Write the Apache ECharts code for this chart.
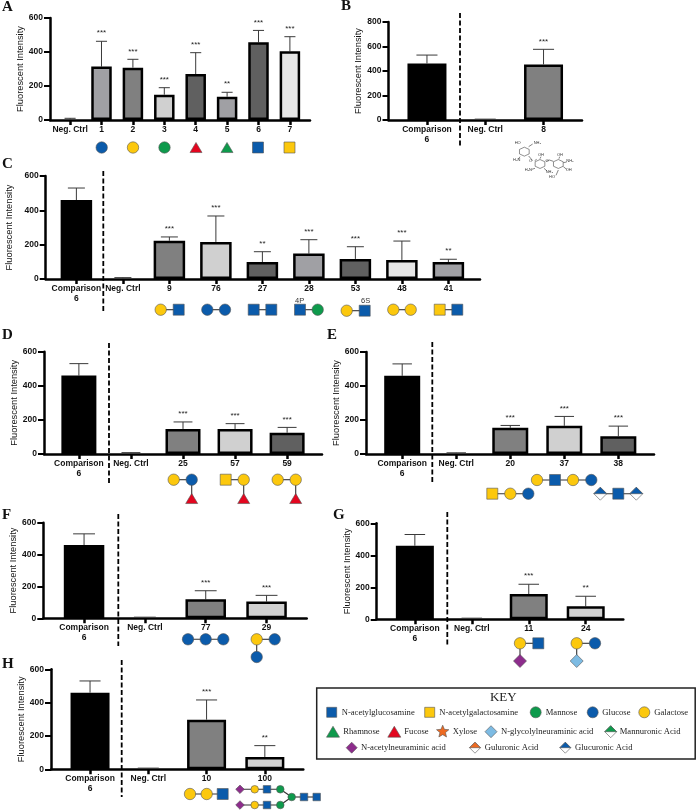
<!DOCTYPE html>
<html><head><meta charset="utf-8">
<style>html,body{margin:0;padding:0;background:#fff}#c{width:696px;height:810px;filter:blur(.35px)}</style>
<script src="https://cdn.jsdelivr.net/npm/echarts@6/dist/echarts.min.js"></script>
</head><body><div id="c"></div>
<script>
// ---------- data ----------
const compLabel = 'Comparison\n6';
const negLabel = 'Neg. Ctrl';
const compValue = 460, compUpper = 530;
const negValue = 2, negUpper = 7;

const aLabels = [negLabel,'1','2','3','4','5','6','7'];
const aValues = [negValue,314,308,149,270,137,457,404];
const aUpper  = [10,463,357,190,396,163,527,490];
const aSig    = ['','***','***','***','***','**','***','***'];
const aFills  = ['none','#a0a0a4','#808080','#d0d0d0','#606060','#a0a0a4','#606060','#e6e6e6'];

const bLabels = [compLabel,negLabel,'8'];
const bValues = [462,negValue,454];
const bUpper  = [530,negUpper,577];
const bSig    = ['','','***'];
const bFills  = ['#000','none','#808080'];

const cLabels = [compLabel,negLabel,'9','76','27','28','53','48','41'];
const cValues = [compValue,negValue,223,216,99,148,117,111,99];
const cUpper  = [compUpper,8,245,367,159,229,188,221,115];
const cSig    = ['','','***','***','**','***','***','***','**'];
const cFills  = ['#000','none','#808080','#d0d0d0','#606060','#a0a0a4','#606060','#e6e6e6','#a0a0a4'];

const dLabels = [compLabel,negLabel,'25','57','59'];
const dValues = [compValue,negValue,147,147,125];
const dUpper  = [compUpper,8,188,178,156];
const dSig    = ['','','***','***','***'];
const dFills  = ['#000','none','#808080','#d0d0d0','#606060'];

const eLabels = [compLabel,negLabel,'20','37','38'];
const eValues = [compValue,negValue,154,166,105];
const eUpper  = [compUpper,negUpper,168,221,164];
const eSig    = ['','','***','***','***'];
const eFills  = ['#000','none','#808080','#d0d0d0','#606060'];

const fLabels = [compLabel,negLabel,'77','29'];
const fValues = [compValue,negValue,119,105];
const fUpper  = [compUpper,negUpper,173,144];
const fSig    = ['','','***','***'];
const fFills  = ['#000','none','#808080','#d0d0d0'];

const gLabels = [compLabel,negLabel,'11','24'];
const gValues = [compValue,negValue,158,81];
const gUpper  = [compUpper,negUpper,219,144];
const gSig    = ['','','***','**'];
const gFills  = ['#000','none','#808080','#d0d0d0'];

const hLabels = [compLabel,negLabel,'10','100'];
const hValues = [compValue,negValue,298,74];
const hUpper  = [compUpper,negUpper,416,142];
const hSig    = ['','','***','**'];
const hFills  = ['#000','none','#808080','#d0d0d0'];

const yTitle = 'Fluorescent Intensity';

// ---------- layout of each panel (axis x, axis end, y top, y zero, first cat x, cat spacing, bar width) ----------
const panels = [
 {l:aLabels,v:aValues,u:aUpper,s:aSig,f:aFills,ax:50,  end:310,  top:18,   zero:120,  x0:70,   dx:31.4, w:20.5,max:600,step:200},
 {l:bLabels,v:bValues,u:bUpper,s:bSig,f:bFills,ax:388.5,end:582, top:22,   zero:120,  x0:427,  dx:58.2, w:39,  max:800,step:200},
 {l:cLabels,v:cValues,u:cUpper,s:cSig,f:cFills,ax:45.7,end:480,  top:176,  zero:279,  x0:76.3, dx:46.5, w:31.5,max:600,step:200},
 {l:dLabels,v:dValues,u:dUpper,s:dSig,f:dFills,ax:44,  end:322,  top:351.7,zero:454,  x0:79,   dx:52,   w:35,  max:600,step:200},
 {l:eLabels,v:eValues,u:eUpper,s:eSig,f:eFills,ax:366, end:654,  top:352,  zero:454,  x0:402.3,dx:54,   w:36,  max:600,step:200},
 {l:fLabels,v:fValues,u:fUpper,s:fSig,f:fFills,ax:43.3,end:306.7,top:522.7,zero:618.3,x0:84,   dx:60.8, w:40.5,max:600,step:200},
 {l:gLabels,v:gValues,u:gUpper,s:gSig,f:gFills,ax:376.7,end:623.3,top:523.3,zero:619.3,x0:414.7,dx:57,  w:38,  max:600,step:200},
 {l:hLabels,v:hValues,u:hUpper,s:hSig,f:hFills,ax:51,  end:303.3,top:669.3,zero:769.3,x0:90,   dx:58.3, w:39,  max:600,step:200}
];

const AXW = 2.5, SANS = '"Liberation Sans", Arial, sans-serif', SERIF = '"Liberation Serif", "Times New Roman", serif';
const r2d=v=>Math.round(v*100)/100;
const grid=[],xAxis=[],yAxis=[],series=[];
panels.forEach((p,i)=>{
  grid.push({left:p.ax,top:p.top,width:p.end-p.ax,height:p.zero-p.top,containLabel:false,outerBoundsMode:'none'});
  const idx=p.l.map((_,k)=>k);
  xAxis.push({type:'value',gridIndex:i,interval:0.01,min:r2d((p.ax-p.x0)/p.dx),max:r2d((p.end-p.x0)/p.dx),splitLine:{show:false},
    axisLine:{show:true,onZero:false,lineStyle:{color:'#000',width:AXW}},
    axisTick:{show:true,customValues:idx,length:5,lineStyle:{color:'#000',width:AXW}},
    axisLabel:{show:true,customValues:idx,margin:5,lineHeight:9.5,formatter:v=>p.l[Math.round(v)],color:'#111',fontFamily:SANS,fontWeight:'bold',fontSize:8.5,hideOverlap:false,showMinLabel:true,showMaxLabel:true}});
  yAxis.push({type:'value',gridIndex:i,min:0,max:p.max,interval:p.step,splitLine:{show:false},
    name:yTitle,nameLocation:'middle',nameGap:21,nameRotate:90,
    nameTextStyle:{color:'#111',fontFamily:SANS,fontSize:9.3},
    axisLine:{show:true,onZero:false,lineStyle:{color:'#000',width:AXW}},
    axisTick:{show:true,length:6,lineStyle:{color:'#000',width:2}},
    axisLabel:{margin:7,color:'#111',fontFamily:SANS,fontWeight:'bold',fontSize:8.5}});
  series.push({type:'bar',xAxisIndex:i,yAxisIndex:i,barWidth:p.w,clip:false,silent:true,
    data:p.v.map((v,k)=>({value:[k,v],itemStyle:p.f[k]==='none'?{color:'transparent',borderWidth:0}:{color:p.f[k],borderColor:'#000',borderWidth:2.5}}))});
  series.push({type:'custom',xAxisIndex:i,yAxisIndex:i,clip:false,silent:true,z:1,
    data:p.v.map((v,k)=>[k,v,p.u[k]]),encode:{x:0,y:[1,2]},
    renderItem:(params,api)=>{
      const k=params.dataIndex, a=api.coord([api.value(0),api.value(1)]), b=api.coord([api.value(0),api.value(2)]);
      const cap=p.w*0.27, st={stroke:'#3a3a3a',lineWidth:1,fill:'none'};
      const ch=[{type:'line',shape:{x1:a[0],y1:a[1],x2:b[0],y2:b[1]},style:st},
                {type:'line',shape:{x1:b[0]-cap,y1:b[1],x2:b[0]+cap,y2:b[1]},style:st}];
      if(p.s[k]) ch.push({type:'text',style:{text:p.s[k],x:b[0],y:b[1]-4,align:'center',verticalAlign:'bottom',fill:'#222',font:'8px '+SANS}});
      return {type:'group',children:ch};
    }});
});

// ---------- annotations (glycan symbols, labels, key) ----------
const BLUE='#0b5bab',YEL='#fcc80d',GRN='#0e9a4c',RED='#e3061f',PUR='#8d2c8c',LBL='#7dbbe3',ORG='#ee6a21';
const G=[];
const EDGE='#555';
const circ=(x,y,c,r=5.7)=>G.push({type:'circle',shape:{cx:x,cy:y,r},style:{fill:c,stroke:EDGE,lineWidth:.6},z:20});
const sq=(x,y,c,s=11)=>G.push({type:'rect',shape:{x:x-s/2,y:y-s/2,width:s,height:s},style:{fill:c,stroke:EDGE,lineWidth:.6},z:20});
const tri=(x,y,c,s=12)=>G.push({type:'polygon',shape:{points:[[x-s/2,y+s*.42],[x+s/2,y+s*.42],[x,y-s*.42]]},style:{fill:c,stroke:EDGE,lineWidth:.6},z:20});
const dia=(x,y,c,s=6.5)=>G.push({type:'polygon',shape:{points:[[x,y-s],[x+s,y],[x,y+s],[x-s,y]]},style:{fill:c,stroke:EDGE,lineWidth:.6},z:20});
const half=(x,y,c,s=6.5)=>{dia(x,y,'#fff',s);G.push({type:'polygon',shape:{points:[[x,y-s],[x+s,y],[x-s,y]]},style:{fill:c,stroke:EDGE,lineWidth:.6},z:21});};
const star=(x,y,c,R=6.5)=>{const pts=[];for(let i=0;i<10;i++){const r=i%2?R*.45:R,a=-Math.PI/2+i*Math.PI/5;pts.push([x+r*Math.cos(a),y+r*Math.sin(a)]);}
  G.push({type:'polygon',shape:{points:pts},style:{fill:c,stroke:EDGE,lineWidth:.6},z:20});};
const link=(x1,y1,x2,y2,w=1.1)=>G.push({type:'line',shape:{x1,y1,x2,y2},style:{stroke:'#333',lineWidth:w},z:15});
const txt=(t,x,y,font,fill='#222',align='left')=>G.push({type:'text',style:{text:t,x,y,font,fill,textAlign:align,textVerticalAlign:'middle'},z:25});
const dash=(x,y1,y2)=>G.push({type:'line',shape:{x1:x,y1,x2:x,y2},style:{stroke:'#000',lineWidth:1.8,lineDash:[5,2.5]},z:12});

// panel letters
[['A',2,7],['B',341,6],['C',2,164],['D',2,335],['E',327,335],['F',2,515],['G',333,515],['H',2,664]]
  .forEach(([t,x,y])=>txt(t,x,y,'bold 15px '+SERIF,'#111'));

// dashed separators
dash(460,13,146);dash(103.3,171,312);dash(109,343,484);dash(432.3,342,484);dash(118.3,514,646);dash(447.3,512,645);dash(121.7,660,797);

// A
const ay=147.5;
circ(101.7,ay,BLUE);circ(133,ay,YEL);circ(164.5,ay,GRN);tri(196,ay,RED);tri(227,ay,GRN);sq(258,ay,BLUE);sq(289.5,ay,YEL);

// C
const cy=309.7;
link(160.7,cy,178.7,cy);circ(160.7,cy,YEL);sq(178.7,cy,BLUE);
link(207.3,cy,225,cy);circ(207.3,cy,BLUE);circ(225,cy,BLUE);
link(253.7,cy,271.3,cy);sq(253.7,cy,BLUE);sq(271.3,cy,BLUE);
link(300,cy,317.7,cy);sq(300,cy,BLUE);circ(317.7,cy,GRN);txt('4P',295,301,'7.5px '+SANS,'#333');
link(346.7,cy+1,364.7,cy+1);circ(346.7,cy+1,YEL);sq(364.7,cy+1,BLUE);txt('6S',361,301,'7.5px '+SANS,'#333');
link(393.3,cy,410.7,cy);circ(393.3,cy,YEL);circ(410.7,cy,YEL);
link(439.7,cy,457.3,cy);sq(439.7,cy,YEL);sq(457.3,cy,BLUE);

// D
const dy=479.7,dy2=498.5;
link(173.7,dy,191.7,dy);link(191.7,dy,191.7,dy2);circ(173.7,dy,YEL);circ(191.7,dy,BLUE);tri(191.7,dy2,RED);
link(225.7,dy,243.7,dy);link(243.7,dy,243.7,dy2);sq(225.7,dy,YEL);circ(243.7,dy,YEL);tri(243.7,dy2,RED);
link(277.7,dy,295.7,dy);link(295.7,dy,295.7,dy2);circ(277.7,dy,YEL);circ(295.7,dy,YEL);tri(295.7,dy2,RED);

// E
const ey1=480,ey2=493.7;
link(537,ey1,591.3,ey1);circ(537,ey1,YEL);sq(555,ey1,BLUE);circ(573,ey1,YEL);circ(591.3,ey1,BLUE);
link(492.3,ey2,528.3,ey2);sq(492.3,ey2,YEL);circ(510.3,ey2,YEL);circ(528.3,ey2,BLUE);
link(600.3,ey2,636.3,ey2);half(600.3,ey2,BLUE);sq(618.3,ey2,BLUE);half(636.3,ey2,BLUE);

// F
const fy=639.3;
link(188,fy,223.3,fy);circ(188,fy,BLUE);circ(205.7,fy,BLUE);circ(223.3,fy,BLUE);
link(256.7,fy,274.7,fy);link(256.7,fy,256.7,657);circ(256.7,fy,YEL);circ(274.7,fy,BLUE);circ(256.7,657,BLUE);

// G
const gy=643.3;
link(520,gy,538.3,gy);link(520,gy,520,661);circ(520,gy,YEL);sq(538.3,gy,BLUE);dia(520,661,PUR);
link(576.7,gy,595,gy);link(576.7,gy,576.7,661);circ(576.7,gy,YEL);circ(595,gy,BLUE);dia(576.7,661,LBL);

// H
link(190,794,222.7,794);circ(190,794,YEL);circ(206.7,794,YEL);sq(222.7,794,BLUE);
[789.3,805].forEach(y=>{link(240,y,280.3,y);dia(240,y,PUR,4.3);circ(254.7,y,YEL,3.8);sq(267,y,BLUE,7.5);circ(280.3,y,GRN,3.8);link(280.3,y,291.7,797);});
link(291.7,797,316.7,797);circ(291.7,797,GRN,3.8);sq(304,797,BLUE,7.5);sq(316.7,797,BLUE,7.5);

// B chemical structure
const zx=v=>340+v/3, zy=v=>v/3;
const hex=(cx,cy,r=5.6)=>{const pts=[];for(let i=0;i<6;i++){const a=Math.PI/6+i*Math.PI/3;pts.push([zx(cx)+r*Math.cos(a),zy(cy)+r*Math.sin(a)*.8]);}
  G.push({type:'polygon',shape:{points:pts},style:{fill:'none',stroke:'#444',lineWidth:.6},z:20});};
hex(553,455);hex(600,492);hex(655,492);
[[566,468,578,482],[584,482,590,478],[618,484,628,480],[628,480,640,484],[566,440,578,432],[540,470,535,478],[585,505,575,508],[612,505,620,512],[600,476,603,470],[657,476,659,470],[670,488,680,486],[670,500,680,508],[655,510,648,526]]
 .forEach(([a,b,c,d])=>link(zx(a),zy(b),zx(c),zy(d),.6));
[['HO',533,428],['NH₂',592,430],['H₂N',530,480],['O',572,482],['OH',603,466],['O',621,482],['OH',660,466],['NH₂',690,484],['H₂N',565,510],['NH₂',628,516],['OH',686,510],['HO',636,532]]
 .forEach(([t,a,b])=>txt(t,zx(a),zy(b),'4px '+SANS,'#333','center'));

// KEY box
G.push({type:'rect',shape:{x:316.7,y:688,width:378.5,height:71},style:{fill:'#fff',stroke:'#222',lineWidth:1.5},z:10});
txt('KEY',503.3,698,'13px '+SERIF,'#222','center');
const kf='8.6px '+SERIF, r1=712.3,r2=731.7,r3=747.7;
sq(331.7,r1,BLUE,10);txt('N-acetylglucosamine',341.7,r1,kf);
sq(429.7,r1,YEL,10);txt('N-acetylgalactosamine',439.3,r1,kf);
circ(535.7,r1,GRN,5.5);txt('Mannose',545.7,r1,kf);
circ(592.7,r1,BLUE,5.5);txt('Glucose',602.3,r1,kf);
circ(644.3,r1,YEL,5.5);txt('Galactose',654.3,r1,kf);
tri(333,r2,GRN,13);txt('Rhamnose',343.3,r2,kf);
tri(394.3,r2,RED,13);txt('Fucose',404.3,r2,kf);
star(442.7,r2,ORG);txt('Xylose',452.7,r2,kf);
dia(491,r2,LBL,6);txt('N-glycolylneuraminic acid',501,r2,kf);
half(610.7,r2,GRN,6);txt('Mannuronic Acid',619.7,r2,kf);
dia(351.7,r3,PUR,5.5);txt('N-acetylneuraminic acid',361,r3,kf);
half(475,r3,ORG,5.5);txt('Guluronic Acid',484.7,r3,kf);
half(565.3,r3,BLUE,5.5);txt('Glucuronic Acid',575,r3,kf);

const chart=echarts.init(document.getElementById('c'),null,{renderer:'canvas'});
chart.setOption({animation:false,backgroundColor:'#fff',grid,xAxis,yAxis,series,graphic:{elements:G}});
</script></body></html>
